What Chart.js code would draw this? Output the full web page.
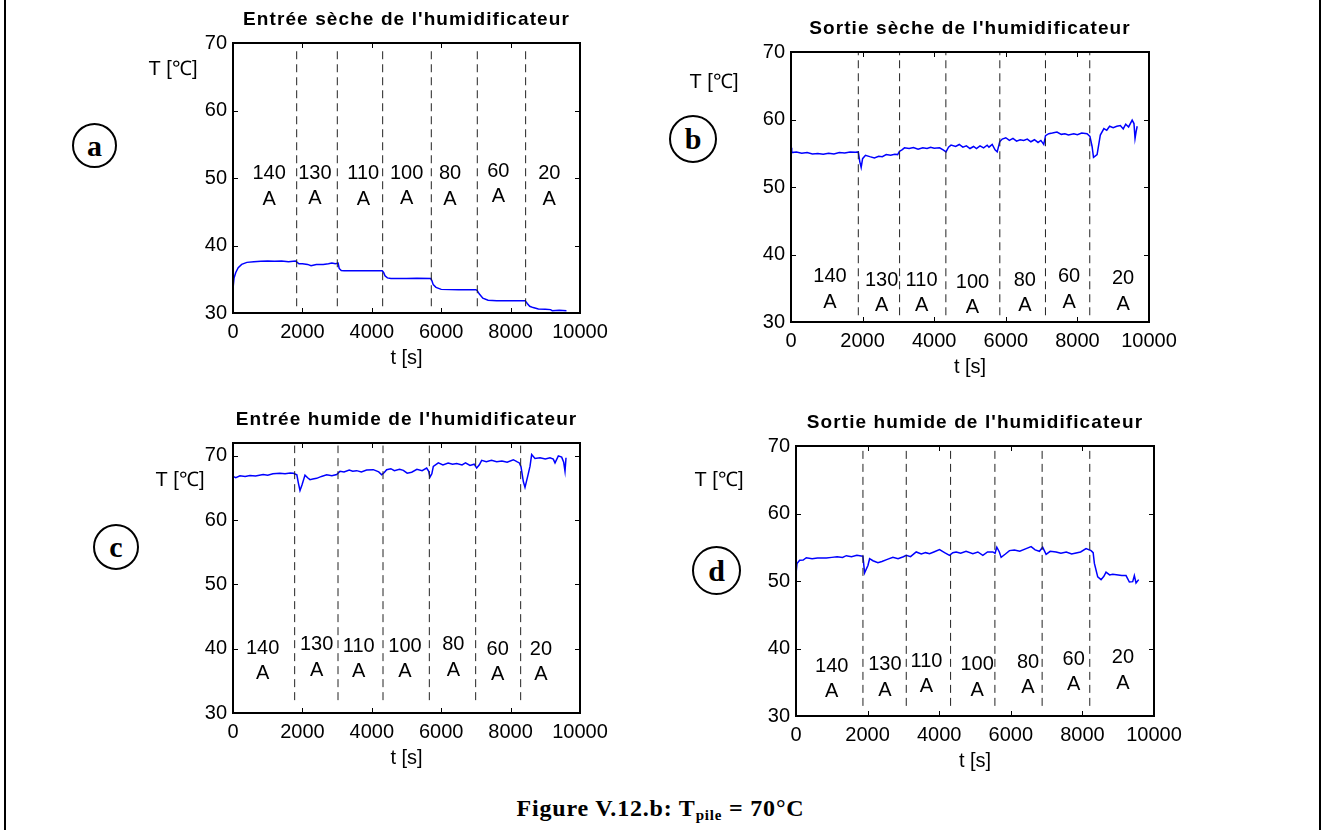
<!DOCTYPE html>
<html>
<head>
<meta charset="utf-8">
<script src="https://cdn.jsdelivr.net/npm/chart.js@4.4.0/dist/chart.umd.min.js"></script>
<style>
  html, body { margin: 0; padding: 0; background: #fff; }
  body { width: 1321px; height: 830px; position: relative; overflow: hidden; }
  .cadre { position: absolute; left: 4px; top: 0; width: 1313px; height: 830px; border-left: 2px solid #000; border-right: 2px solid #000; }
  canvas { position: absolute; }
  .rond { position: absolute; box-sizing: border-box; border: 2px solid #000; border-radius: 50%;
          font: bold 30px "Liberation Serif", "Times New Roman", serif; display: flex; align-items: center; justify-content: center; line-height: 1; }
  #legende { position: absolute; left: 0; width: 1321px; top: 795px; text-align: center; letter-spacing: 0.8px;
             font: bold 24px "Liberation Serif", "Times New Roman", serif; }
  #legende sub { font-size: 15px; vertical-align: -4px; line-height: 0; }
</style>
</head>
<body>
<div class="cadre"></div>
<div class="rond" style="left:72px;top:123px;width:45px;height:45px">a</div>
<div class="rond" style="left:669px;top:115px;width:48px;height:48px">b</div>
<div class="rond" style="left:93px;top:524px;width:46px;height:46px">c</div>
<div class="rond" style="left:692px;top:546px;width:49px;height:49px">d</div>
<div id="legende">Figure V.12.b: T<sub>pile</sub> = 70°C</div>

<script>
const courants = ["140", "130", "110", "100", "80", "60", "20"];

// (a) entrée sèche
const tempsA = [0, 30, 80, 150, 250, 400, 600, 800, 1000, 1200, 1400, 1600, 1800, 1850, 1900, 2000, 2150, 2250, 2400, 2600,
  2750, 2850, 2950, 3030, 3060, 3120, 3200, 3600, 4000, 4300, 4340, 4380, 4450, 4550, 5000, 5300, 5700, 5730, 5770, 5850,
  6000, 6500, 7000, 7040, 7100, 7200, 7350, 7600, 8000, 8420, 8480, 8550, 8650, 8800, 9000, 9150, 9200, 9400, 9610];
const tempA = [33.6, 35.2, 36.0, 36.7, 37.2, 37.5, 37.6, 37.65, 37.7, 37.65, 37.7, 37.6, 37.7, 37.5, 37.3, 37.3, 37.2, 37.0, 37.2, 37.2,
  37.3, 37.4, 37.3, 37.4, 36.6, 36.3, 36.25, 36.25, 36.25, 36.25, 36.0, 35.5, 35.2, 35.1, 35.1, 35.15, 35.1, 34.8, 34.2, 33.8,
  33.5, 33.45, 33.45, 33.3, 32.8, 32.2, 31.9, 31.8, 31.8, 31.8, 31.4, 31.0, 30.8, 30.6, 30.55, 30.5, 30.35, 30.4, 30.35];
const coupuresA = [1835, 3006, 4313, 5715, 7040, 8433];
const labelXA = [1040, 2360, 3755, 5005, 6254, 7646, 9115];
const labelYA = [50.6, 50.7, 50.6, 50.7, 50.6, 51.0, 50.6];

// (b) sortie sèche
const tempsB = [0, 20, 150, 300, 450, 600, 750, 900, 1050, 1200, 1350, 1500, 1650, 1800, 1880, 1920, 1960, 2000, 2080, 2200,
  2330, 2450, 2550, 2660, 2780, 2900, 2980, 3030, 3100, 3170, 3300, 3420, 3550, 3680, 3800, 3900, 4000, 4150, 4250, 4330,
  4400, 4470, 4600, 4700, 4800, 4900, 5000, 5100, 5180, 5280, 5380, 5480, 5530, 5620, 5700, 5760, 5830, 5900, 6000, 6100,
  6200, 6300, 6400, 6500, 6600, 6700, 6800, 6900, 6980, 7060, 7110, 7200, 7300, 7430, 7550, 7650, 7750, 7900, 8000, 8120,
  8270, 8350, 8410, 8450, 8550, 8640, 8740, 8820, 8900, 9000, 9100, 9200, 9280, 9350, 9430, 9530, 9580, 9610, 9640, 9670];
const tempB = [55.8, 55.1, 55.2, 55.0, 55.1, 54.9, 54.95, 54.85, 55.0, 54.9, 55.1, 55.05, 55.2, 55.15, 55.2, 53.8, 52.9, 54.2, 54.7, 54.5,
  54.3, 54.55, 54.5, 54.8, 54.7, 54.85, 54.8, 55.3, 55.5, 55.8, 55.7, 55.85, 55.6, 55.8, 55.7, 55.9, 55.75, 55.8, 55.5, 55.2,
  55.9, 56.2, 56.0, 56.3, 55.9, 56.1, 55.7, 56.0, 55.7, 56.1, 55.8, 56.2, 55.9, 56.3, 55.5, 55.2, 56.7, 57.1, 57.3, 56.9,
  57.2, 56.8, 57.0, 56.9, 57.1, 56.7, 57.0, 56.6, 56.9, 56.3, 57.6, 57.9, 58.0, 58.15, 57.8, 57.9, 57.7, 57.9, 57.75, 58.0,
  57.9, 57.5, 56.0, 54.4, 54.8, 57.7, 58.65, 58.4, 59.0, 58.8, 59.0, 59.1, 58.6, 59.3, 58.9, 59.9, 59.4, 57.2, 58.2, 59.0];
const coupuresB = [1880, 3033, 4326, 5833, 7108, 8345];
const labelXB = [1088, 2531, 3647, 5070, 6531, 7768, 9275];
const labelYB = [36.7, 36.2, 36.2, 35.9, 36.2, 36.7, 36.4];

// (c) entrée humide
const tempsC = [0, 80, 200, 350, 490, 650, 870, 1000, 1150, 1350, 1500, 1650, 1740, 1840, 1883, 1931, 1990, 2075, 2150, 2219,
  2300, 2411, 2550, 2700, 2850, 2988, 3084, 3200, 3350, 3450, 3564, 3700, 3850, 4044, 4200, 4284, 4360, 4428, 4550, 4650,
  4800, 4909, 5020, 5149, 5300, 5450, 5581, 5640, 5677, 5730, 5773, 5917, 6050, 6200, 6330, 6446, 6600, 6700, 6830, 6950,
  7022, 7100, 7166, 7300, 7450, 7598, 7750, 7900, 8079, 8180, 8252, 8300, 8367, 8415, 8492, 8560, 8607, 8703, 8847, 9000,
  9135, 9230, 9280, 9376, 9472, 9530, 9568, 9597];
const tempC = [66.8, 66.6, 66.9, 66.8, 66.95, 66.85, 67.1, 67.0, 67.2, 67.3, 67.2, 67.35, 67.3, 67.05, 65.8, 64.6, 65.5, 67.0, 66.6, 66.3,
  66.4, 66.5, 66.8, 67.05, 66.9, 67.1, 67.6, 67.5, 67.8, 67.6, 67.7, 67.5, 67.8, 67.85, 67.5, 67.05, 67.4, 67.85, 68.0, 67.7,
  67.9, 67.75, 67.3, 67.45, 67.9, 67.7, 68.1, 67.6, 66.7, 67.2, 68.35, 68.9, 68.6, 68.9, 68.7, 68.8, 68.6, 68.9, 68.5, 68.7,
  68.1, 68.6, 69.3, 69.1, 69.3, 69.1, 69.2, 69.0, 69.4, 69.1, 68.9, 68.3, 66.0, 65.1, 66.8, 68.4, 70.2, 69.6, 69.7, 69.5,
  69.7, 69.5, 68.9, 70.0, 69.8, 69.0, 67.6, 69.7];
const coupuresC = [1777, 3026, 4323, 5658, 6993, 8290];
const labelXC = [855, 2411, 3622, 4957, 6349, 7628, 8876];
const labelYC = [40.1, 40.6, 40.35, 40.35, 40.6, 39.95, 39.95];

// (d) sortie humide
const tempsD = [0, 28, 102, 200, 288, 450, 600, 847, 1000, 1150, 1300, 1405, 1550, 1700, 1823, 1870, 1916, 2009, 2056, 2150,
  2288, 2400, 2550, 2707, 2850, 3000, 3079, 3200, 3358, 3500, 3620, 3730, 3850, 4009, 4150, 4288, 4380, 4474, 4600, 4750,
  4940, 5080, 5219, 5350, 5498, 5560, 5609, 5680, 5730, 5850, 5963, 6100, 6250, 6428, 6567, 6680, 6800, 6890, 6986, 7100,
  7265, 7400, 7550, 7700, 7823, 7950, 8102, 8242, 8300, 8335, 8428, 8521, 8600, 8660, 8760, 8847, 9000, 9100, 9219, 9312,
  9405, 9451, 9498, 9572];
const tempD = [51.1, 52.6, 53.07, 53.1, 53.45, 53.3, 53.4, 53.4, 53.5, 53.6, 53.5, 53.75, 53.6, 53.8, 53.7, 53.65, 51.2, 52.3, 53.3, 53.0,
  52.7, 52.9, 53.2, 53.5, 53.3, 53.6, 53.8, 53.6, 54.3, 54.0, 54.2, 54.05, 54.3, 54.65, 54.2, 53.8, 54.2, 54.3, 54.1, 54.4,
  54.05, 54.3, 53.8, 54.3, 54.3, 54.1, 55.0, 54.3, 53.5, 54.0, 54.5, 54.6, 54.4, 54.8, 55.1, 54.6, 54.4, 55.0, 53.95, 54.4,
  54.3, 54.1, 54.3, 54.0, 54.15, 54.3, 54.8, 54.5, 54.2, 52.6, 50.6, 50.2, 50.7, 51.3, 50.9, 51.0, 50.9, 50.8, 50.8, 49.85,
  49.9, 50.8, 49.7, 50.2];
const coupuresD = [1870, 3080, 4318, 5556, 6875, 8206];
const labelXD = [997, 2484, 3646, 5058, 6481, 7757, 9133];
const labelYD = [37.4, 37.6, 38.1, 37.6, 38.0, 38.4, 38.65];

const panneaux = [
  { titre: "Entrée sèche de l'humidificateur", temps: tempsA, temp: tempA, coupures: coupuresA, trait: [31, 69.5],
    labelX: labelXA, labelY: labelYA, yMax: 70, box: [130, 0, 480, 380], gauche: 103, droite: 30, haut: 43, bas: 67, posT: [43, 69] },
  { titre: "Sortie sèche de l'humidificateur", temps: tempsB, temp: tempB, coupures: coupuresB, trait: [31, 70],
    labelX: labelXB, labelY: labelYB, yMax: 70, box: [680, 0, 500, 390], gauche: 111, droite: 31, haut: 52, bas: 68, posT: [34, 82] },
  { titre: "Entrée humide de l'humidificateur", temps: tempsC, temp: tempC, coupures: coupuresC, trait: [32, 71.6],
    labelX: labelXC, labelY: labelYC, yMax: 72, box: [130, 400, 480, 380], gauche: 103, droite: 30, haut: 43, bas: 67, posT: [50, 80] },
  { titre: "Sortie humide de l'humidificateur", temps: tempsD, temp: tempD, coupures: coupuresD, trait: [31.5, 69.5],
    labelX: labelXD, labelY: labelYD, yMax: 70, box: [680, 400, 505, 390], gauche: 116, droite: 31, haut: 46, bas: 74, posT: [39, 80] }
];

Chart.defaults.font.family = "'Liberation Sans', Arial, Helvetica, sans-serif";
Chart.defaults.font.size = 20;
Chart.defaults.color = "#000";

// cadre, graduations intérieures, titres et étiquettes de courant
function decorPanneau(p) {
  return {
    id: "decor",
    afterDraw(chart) {
      const { ctx, chartArea: a, scales: { x, y } } = chart;
      ctx.save();
      ctx.strokeStyle = "#000";
      ctx.lineWidth = 1;
      ctx.beginPath();
      x.ticks.forEach(t => {
        const px = Math.round(x.getPixelForValue(t.value)) + 0.5;
        ctx.moveTo(px, a.bottom); ctx.lineTo(px, a.bottom - 5);
        ctx.moveTo(px, a.top); ctx.lineTo(px, a.top + 5);
      });
      y.ticks.forEach(t => {
        const py = Math.round(y.getPixelForValue(t.value)) + 0.5;
        ctx.moveTo(a.left, py); ctx.lineTo(a.left + 5, py);
        ctx.moveTo(a.right, py); ctx.lineTo(a.right - 5, py);
      });
      ctx.stroke();
      ctx.lineWidth = 2;
      ctx.strokeRect(a.left, a.top, a.width, a.height);

      ctx.fillStyle = "#000";
      ctx.textAlign = "center";
      ctx.textBaseline = "middle";
      ctx.font = "20px 'Liberation Sans', Arial, sans-serif";
      p.labelX.forEach((t, i) => {
        const px = x.getPixelForValue(t);
        const py = y.getPixelForValue(p.labelY[i]);
        ctx.fillText(courants[i], px, py);
        ctx.fillText("A", px, py + 25.5);
      });
      ctx.fillText("T [℃]", p.posT[0], p.posT[1]);

      ctx.font = "bold 19px 'Liberation Sans', Arial, sans-serif";
      ctx.letterSpacing = "1.1px";
      ctx.fillText(p.titre, (a.left + a.right) / 2, a.top - 23.5);
      ctx.restore();
    }
  };
}

panneaux.forEach(p => {
  const cv = document.createElement("canvas");
  cv.width = p.box[2];
  cv.height = p.box[3];
  cv.style.left = p.box[0] + "px";
  cv.style.top = p.box[1] + "px";
  document.body.appendChild(cv);

  const datasets = p.coupures.map(c => ({
    data: [{ x: c, y: p.trait[0] }, { x: c, y: p.trait[1] }],
    borderColor: "#222",
    borderWidth: 1,
    borderDash: [8, 5],
    pointRadius: 0,
    showLine: true
  }));
  datasets.push({
    data: p.temps.map((t, i) => ({ x: t, y: p.temp[i] })),
    borderColor: "#0000ff",
    borderWidth: 1.5,
    pointRadius: 0,
    showLine: true
  });

  new Chart(cv, {
    type: "scatter",
    data: { datasets },
    options: {
      responsive: false,
      animation: false,
      devicePixelRatio: 1,
      layout: { autoPadding: false, padding: { left: 0, top: p.haut, right: p.droite, bottom: 0 } },
      plugins: { legend: { display: false }, tooltip: { enabled: false } },
      scales: {
        x: {
          type: "linear", min: 0, max: 10000,
          ticks: { stepSize: 2000, padding: 7, maxRotation: 0, includeBounds: false, callback: v => String(v) },
          grid: { display: false, drawTicks: false },
          border: { display: false },
          title: { display: true, text: "t [s]", padding: { top: 0, bottom: p.bas - 45 - 12 } },
          afterFit: s => { s.height = p.bas; s.paddingLeft = 0; s.paddingRight = 0; }
        },
        y: {
          min: 30, max: p.yMax,
          ticks: { stepSize: 10, padding: 6, includeBounds: false },
          grid: { display: false, drawTicks: false },
          border: { display: false },
          afterFit: s => { s.width = p.gauche; s.paddingTop = 0; s.paddingBottom = 0; }
        }
      }
    },
    plugins: [decorPanneau(p)]
  });
});
</script>
</body>
</html>
